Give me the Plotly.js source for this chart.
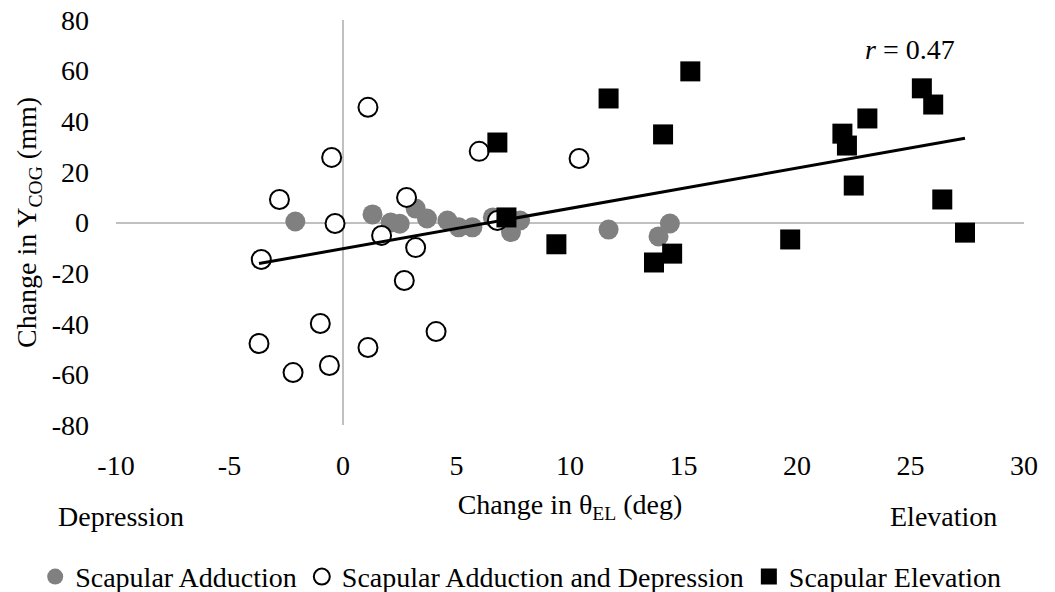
<!DOCTYPE html>
<html>
<head>
<meta charset="utf-8">
<script src="https://cdn.plot.ly/plotly-3.0.1.min.js"></script>
<style>html,body{margin:0;padding:0;background:#fff;}#chart{width:1055px;height:592px;}</style>
</head>
<body>
<div id="chart"></div>
<script>
// Data
var adductionX = [-2.1, 1.3, 2.1, 2.5, 3.2, 3.7, 4.6, 5.1, 5.7, 6.6, 7.4, 7.8, 11.7, 13.9, 14.4];
var adductionY = [0.4, 3.2, 0.0, -0.5, 5.5, 1.6, 0.8, -1.9, -1.9, 2.0, -3.8, 0.8, -2.8, -5.5, -0.4];

var depressionX = [1.1, -0.5, -2.8, -0.35, -3.6, 2.8, 1.7, 3.2, 2.7, -1.0, -3.7, -2.2, -0.6, 1.1, 4.1, 6.0, 6.8, 10.4];
var depressionY = [45.5, 25.7, 9.1, -0.4, -14.6, 9.9, -5.1, -9.9, -22.9, -39.9, -47.8, -59.3, -56.5, -49.4, -43.1, 28.1, 0.8, 25.3];

var elevationX = [6.8, 7.2, 9.4, 11.7, 15.3, 14.1, 13.7, 14.5, 19.7, 22.0, 22.2, 23.1, 22.5, 25.5, 26.0, 26.4, 27.4];
var elevationY = [31.6, 2.0, -8.6, 49.0, 59.7, 34.8, -15.8, -12.3, -6.7, 35.1, 30.4, 41.1, 14.6, 53.0, 46.6, 9.1, -4.0];

var seriesNames = ["Scapular Adduction", "Scapular Adduction and Depression", "Scapular Elevation"];
var xTickVals = [-10, -5, 0, 5, 10, 15, 20, 25, 30];
var yTickVals = [-80, -60, -40, -20, 0, 20, 40, 60, 80];
var correlationLabel = "<i>r</i> = 0.47";

// Linear trend line over all points (least squares)
var allX = adductionX.concat(depressionX, elevationX);
var allY = adductionY.concat(depressionY, elevationY);
var n = allX.length, sx = 0, sy = 0, sxx = 0, sxy = 0;
for (var i = 0; i < n; i++) { sx += allX[i]; sy += allY[i]; sxx += allX[i]*allX[i]; sxy += allX[i]*allY[i]; }
var slope = (n*sxy - sx*sy) / (n*sxx - sx*sx);
var intercept = (sy - slope*sx) / n;
var xMin = Math.min.apply(null, allX), xMax = Math.max.apply(null, allX);
var trendX = [xMin, xMax];
var trendY = trendX.map(function(v){ return intercept + slope*v; });

var font = "Liberation Serif, Times New Roman, serif";

var traces = [
  {x: adductionX, y: adductionY, mode: "markers", type: "scatter", name: seriesNames[0],
   marker: {symbol: "circle", size: 20, color: "#808080", line: {width: 0}}},
  {x: depressionX, y: depressionY, mode: "markers", type: "scatter", name: seriesNames[1],
   marker: {symbol: "circle", size: 19, color: "#ffffff", line: {width: 2, color: "#000000"}}},
  {x: elevationX, y: elevationY, mode: "markers", type: "scatter", name: seriesNames[2],
   marker: {symbol: "square", size: 20, color: "#000000", line: {width: 0}}},
  {x: trendX, y: trendY, mode: "lines", type: "scatter", showlegend: false, hoverinfo: "skip",
   line: {color: "#000000", width: 3}}
];

var layout = {
  width: 1055, height: 592,
  margin: {l: 116, r: 31, t: 20, b: 167, autoexpand: false},
  paper_bgcolor: "#ffffff", plot_bgcolor: "#ffffff",
  font: {family: font, size: 28, color: "#000000"},
  showlegend: true,
  xaxis: {
    range: [-10, 30], tickvals: xTickVals, ticktext: xTickVals.map(String), automargin: false,
    showgrid: false, showline: false, ticks: "", zeroline: true, zerolinecolor: "#c0c0c0", zerolinewidth: 2,
    tickfont: {family: font, size: 28}, ticklabelstandoff: 21,
    title: {text: "Change in θ<sub>EL</sub> (deg)", font: {family: font, size: 28}, standoff: 14},
    fixedrange: true
  },
  yaxis: {
    range: [-80, 80], tickvals: yTickVals, ticktext: yTickVals.map(String), automargin: false,
    showgrid: false, showline: false, ticks: "", zeroline: true, zerolinecolor: "#c0c0c0", zerolinewidth: 2,
    tickfont: {family: font, size: 28}, ticklabelstandoff: 26,
    title: {text: "Change in Y<sub>COG</sub> (mm)", font: {family: font, size: 28}, standoff: 6},
    fixedrange: true
  },
  legend: {
    orientation: "h", xref: "paper", yref: "paper",
    x: -0.089, xanchor: "left", y: -0.375, yanchor: "middle",
    font: {family: font, size: 28}, bgcolor: "rgba(0,0,0,0)", itemwidth: 30, tracegroupgap: 0
  },
  annotations: [
    {text: correlationLabel, xref: "paper", yref: "paper", x: 0.874, y: 0.926, xanchor: "center", yanchor: "middle",
     showarrow: false, font: {family: font, size: 28}},
    {text: "Depression", xref: "paper", yref: "paper", x: 0.0055, y: -0.2247, xanchor: "center", yanchor: "middle",
     showarrow: false, font: {family: font, size: 28}},
    {text: "Elevation", xref: "paper", yref: "paper", x: 0.911, y: -0.2247, xanchor: "center", yanchor: "middle",
     showarrow: false, font: {family: font, size: 28}}
  ]
};

Plotly.newPlot("chart", traces, layout, {displayModeBar: false, staticPlot: true});
</script>
</body>
</html>
